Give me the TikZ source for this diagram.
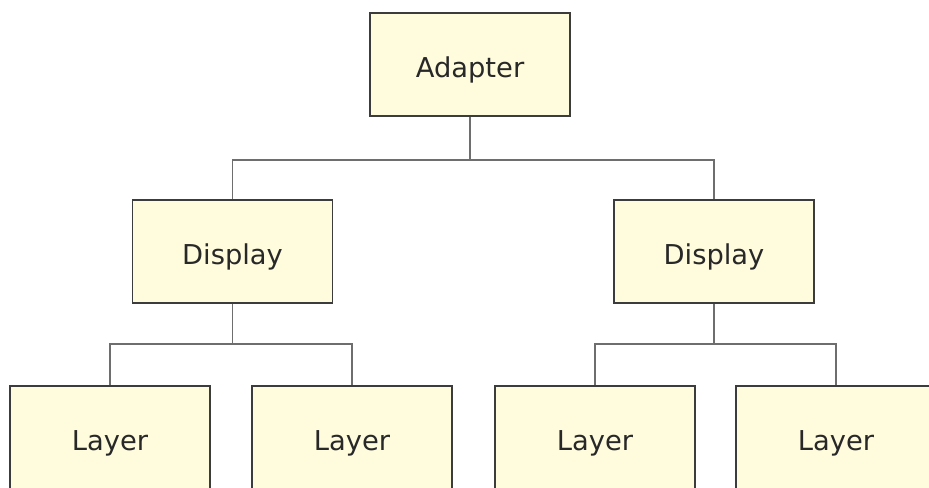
\documentclass[tikz,border=0pt]{standalone}
\usepackage{fontspec}
\setmainfont{DejaVu Sans}
\usetikzlibrary{positioning}

\definecolor{boxfill}{RGB}{255,251,221}
\definecolor{boxline}{RGB}{60,60,60}
\definecolor{wireline}{RGB}{110,110,110}
\definecolor{labeltext}{RGB}{40,40,40}

\begin{document}
\begin{tikzpicture}[x=0.75pt, y=-0.75pt]
% Style definitions
\tikzset{
    unit/.style={draw=boxline, fill=boxfill, line width=1.4pt,
                 minimum width=150pt, minimum height=77pt,
                 inner sep=0pt, text=labeltext,
                 text height=19.5pt, text depth=0pt,
                 font=\fontsize{20.5pt}{24pt}\selectfont},
    wire/.style={draw=wireline, line width=1pt}
}

% Page frame
\useasboundingbox (0,0) rectangle (929,487);
\clip (0,0) rectangle (929,487);

% Top box
\node[unit] (adapter) at (470,64.5) {Adapter};

% Display boxes
\node[unit] (dispL) at (232.5,251.5) {Display};
\node[unit] (dispR) at (714,251.5) {Display};

% Layer boxes
\node[unit] (layerA) at (110,437.5) {Layer};
\node[unit] (layerB) at (352,437.5) {Layer};
\node[unit] (layerC) at (595,437.5) {Layer};
\node[unit] (layerD) at (836,437.5) {Layer};

% Junction points
\coordinate (joinTop) at (470,160);
\coordinate (joinL) at (232.5,344);
\coordinate (joinR) at (714,344);

% Connecting lines
\draw[wire] (adapter.south) -- (joinTop);
\draw[wire] (joinTop) -| (dispL.north);
\draw[wire] (joinTop) -| (dispR.north);

\draw[wire] (dispL.south) -- (joinL);
\draw[wire] (joinL) -| (layerA.north);
\draw[wire] (joinL) -| (layerB.north);

\draw[wire] (dispR.south) -- (joinR);
\draw[wire] (joinR) -| (layerC.north);
\draw[wire] (joinR) -| (layerD.north);

\end{tikzpicture}
\end{document}
